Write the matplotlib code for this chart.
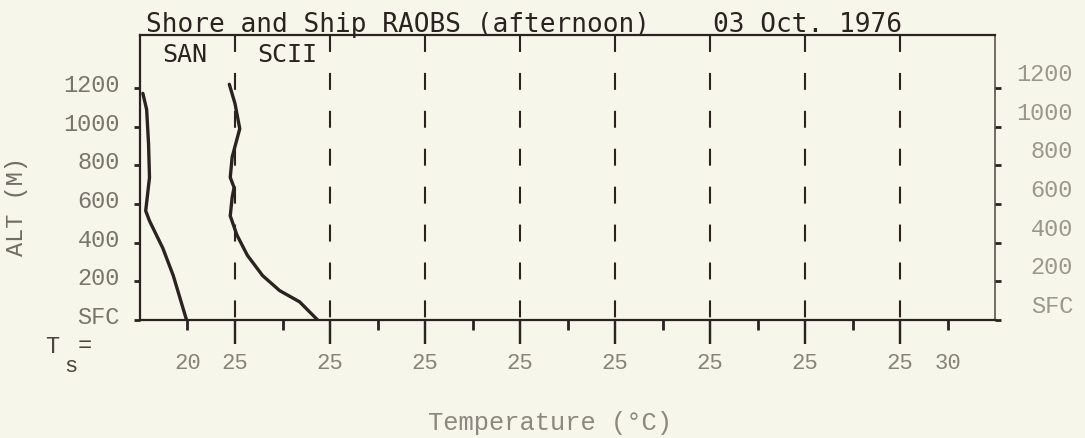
import numpy as np
import matplotlib.pyplot as plt
import matplotlib.transforms as mtransforms

plt.rcParams['font.family'] = 'Liberation Mono'
plt.rcParams['lines.scale_dashes'] = False

# Afternoon soundings, 03 Oct 1976 (temperature in deg C, altitude in m)
san_alt  = [0, 230, 372, 513, 565, 738, 911, 1089, 1173]
san_temp = [19.9, 18.5, 17.4, 16.0, 15.6, 16.0, 15.9, 15.7, 15.3]

scii_alt  = [0, 94, 152, 230, 335, 440, 539, 634, 686, 738, 843, 990, 1120, 1220]
scii_temp = [23.7, 21.8, 19.7, 17.9, 16.3, 15.2, 14.5, 14.7, 14.9, 14.5, 14.7, 15.5, 15.0, 14.4]

stations = ['SAN', 'SCII']
profiles = [(san_temp, san_alt), (scii_temp, scii_alt)]

# altitude axis
alt_ticks  = [0, 200, 400, 600, 800, 1000, 1200]
alt_labels = ['SFC', '200', '400', '600', '800', '1000', '1200']

# temperature axis: each panel is 10 C wide, one 25 C reference line per panel
n_panels    = 9
panel_width = 10
t_min       = 15
ref_temp    = 25
ref_labels  = ['25'] * (n_panels - 1)
mid_labels  = ['20', '', '', '', '', '', '', '', '30']

ref_pos = [ref_temp + panel_width * k for k in range(n_panels - 1)]
mid_pos = [ref_temp - 5 + panel_width * k for k in range(n_panels)]

bg   = '#f7f6ea'
ink  = '#2a231f'
grey = '#85837a'

fig = plt.figure(figsize=(10.85, 4.39), dpi=100, facecolor=bg)
ax = fig.add_axes([140/1085, 1 - 321/439, 855/1085, 285/439])
ax.set_facecolor(bg)
ax.set_xlim(t_min, t_min + n_panels * panel_width)
ax.set_ylim(0, 1475)

# dashed reference lines, dash starting at the top frame
for x in ref_pos:
    ax.plot([x, x], [1475, 0], color=ink, lw=1.5, ls=(0, (12.2, 15.1)))
# long ticks under the axis at each reference line
ax.vlines(ref_pos, -0.085, 0, transform=ax.get_xaxis_transform(),
          color=ink, lw=1.6, clip_on=False)

# profiles, shifted one panel per station
for k, (temp, alt) in enumerate(profiles):
    off = panel_width * k
    ax.plot(np.array(temp) + off, alt, color=ink, lw=2.4,
            solid_capstyle='round', solid_joinstyle='round')
    ax.text(off + 17.3, 0.935, stations[k], transform=ax.get_xaxis_transform(),
            family='DejaVu Sans Mono', size=18, color=ink, va='center')

for s in ['left', 'top', 'bottom']:
    ax.spines[s].set_linewidth(1.6)
    ax.spines[s].set_color(ink)
ax.spines['right'].set_linewidth(1.2)
ax.spines['right'].set_color('#5a544e')

# x ticks
ax.set_xticks(ref_pos, ref_labels)
ax.set_xticks(mid_pos, mid_labels, minor=True)
ax.tick_params(axis='x', which='major', direction='out', length=17, width=1.6,
               pad=6.2, color=ink, labelcolor=grey, labelsize=16)
ax.tick_params(axis='x', which='minor', direction='out', length=7, width=2.0,
               pad=16.2, color=ink, labelcolor=grey, labelsize=16)

# y ticks, left
ax.set_yticks(alt_ticks, alt_labels)
ax.tick_params(axis='y', direction='out', length=4.5, width=2.0, pad=10,
               color=ink, labelcolor='#77756c', labelsize=17, right=False)
for lab in ax.get_yticklabels():
    lab.set_transform(lab.get_transform() +
                      mtransforms.ScaledTranslation(0, 6/100, fig.dpi_scale_trans))

# y ticks, right
ax2 = ax.twinx()
ax2.set_ylim(ax.get_ylim())
ax2.set_yticks(alt_ticks, alt_labels)
ax2.tick_params(axis='y', direction='out', length=4.5, width=2.0, pad=51.7,
                color=ink, labelcolor='#9a988e', labelsize=17)
for lab in ax2.get_yticklabels():
    lab.set_ha('right')
    lab.set_transform(lab.get_transform() +
                      mtransforms.ScaledTranslation(0, 17/100, fig.dpi_scale_trans))
for s in ax2.spines.values():
    s.set_visible(False)

# titles and labels
fig.text(146/1085, 1 - 32/439, 'Shore and Ship RAOBS (afternoon)',
         family='DejaVu Sans Mono', size=18.8, color=ink, va='baseline')
fig.text(713/1085, 1 - 32/439, '03 Oct. 1976',
         family='DejaVu Sans Mono', size=18.8, color=ink, va='baseline')

fig.text(17/1085, 1 - 207/439, 'ALT (M)', rotation=90, size=17,
         color='#6f6d65', ha='center', va='center')
fig.text(550/1085, 1 - 423/439, 'Temperature (°C)', size=18.4,
         color='#8a887f', ha='center', va='center')

fig.text(45/1085, 1 - 347/439, 'T', size=17, color='#4a4540', va='center')
fig.text(64/1085, 1 - 367/439, 's', size=16, color='#4a4540', va='center')
fig.text(78/1085, 1 - 346/439, '=', size=17, color='#4a4540', va='center')

fig.savefig('out.png', dpi=100, facecolor=bg)
